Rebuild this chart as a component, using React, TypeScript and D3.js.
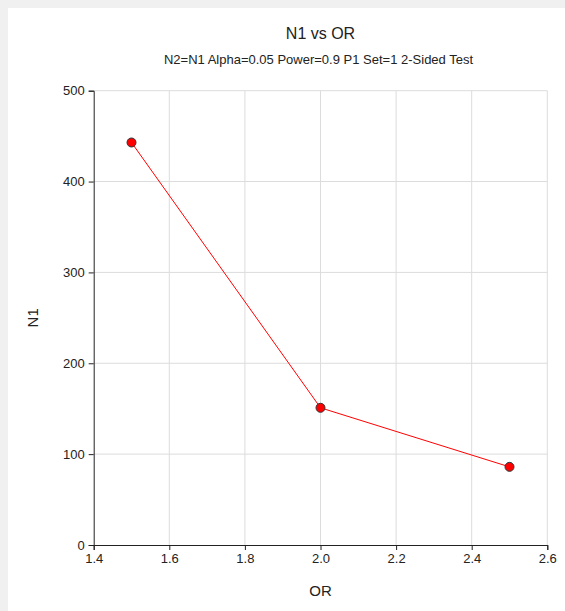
import React, { useEffect, useRef } from 'react';
import * as d3 from 'd3';

const orValues = [1.5, 2.0, 2.5];
const n1Values = [443, 151, 86];
const xTicks = [1.4, 1.6, 1.8, 2.0, 2.2, 2.4, 2.6];
const yTicks = [0, 100, 200, 300, 400, 500];

const App = () => {
  const svgRef = useRef<SVGSVGElement>(null);

  useEffect(() => {
    document.body.style.margin = '0';
    const width = 565;
    const height = 611;
    const left = 93.7;
    const right = 547.3;
    const top = 90.7;
    const bottom = 545;
    const font = 'Arial, "Liberation Sans", sans-serif';

    const svg = d3.select(svgRef.current).attr('width', width).attr('height', height);
    svg.selectAll('*').remove();

    svg.append('rect').attr('width', width).attr('height', height).attr('fill', '#f0f0f0');
    svg.append('rect').attr('x', 8).attr('y', 8).attr('width', width - 8).attr('height', height - 8).attr('fill', '#fff');

    const x = d3.scaleLinear().domain([1.4, 2.6]).range([left, right]);
    const y = d3.scaleLinear().domain([0, 500]).range([bottom, top]);

    // grid
    svg
      .append('g')
      .selectAll('line')
      .data(xTicks.slice(1))
      .join('line')
      .attr('x1', (d) => x(d))
      .attr('x2', (d) => x(d))
      .attr('y1', top)
      .attr('y2', bottom)
      .attr('stroke', '#dcdcdc');
    svg
      .append('g')
      .selectAll('line')
      .data(yTicks.slice(1))
      .join('line')
      .attr('x1', left)
      .attr('x2', right)
      .attr('y1', (d) => y(d))
      .attr('y2', (d) => y(d))
      .attr('stroke', '#dcdcdc');

    const xAxis = d3.axisBottom(x).tickValues(xTicks).tickFormat(d3.format('.1f')).tickSize(5).tickPadding(4);
    const yAxis = d3.axisLeft(y).tickValues(yTicks).tickSize(5).tickPadding(4);

    const gx = svg.append('g').attr('transform', `translate(0,${bottom})`).call(xAxis);
    const gy = svg.append('g').attr('transform', `translate(${left},0)`).call(yAxis);
    [gx, gy].forEach((g) => {
      g.select('.domain').attr('stroke', '#222');
      g.selectAll('.tick line').attr('stroke', '#222');
      g.selectAll('text').attr('font-family', font).attr('font-size', 13).attr('fill', '#222');
    });

    const line = d3
      .line<number>()
      .x((d, i) => x(orValues[i]))
      .y((d) => y(d));

    svg
      .append('path')
      .datum(n1Values)
      .attr('d', line)
      .attr('fill', 'none')
      .attr('stroke', '#ff0000')
      .attr('stroke-width', 1);

    svg
      .append('g')
      .selectAll('circle')
      .data(n1Values)
      .join('circle')
      .attr('cx', (d, i) => x(orValues[i]))
      .attr('cy', (d) => y(d))
      .attr('r', 4.5)
      .attr('fill', '#ff0000')
      .attr('stroke', '#333')
      .attr('stroke-width', 1);

    const cx = (left + right) / 2;
    svg
      .append('text')
      .attr('x', cx)
      .attr('y', 39)
      .attr('text-anchor', 'middle')
      .attr('font-family', font)
      .attr('font-size', 16)
      .attr('fill', '#222')
      .text('N1 vs OR');
    svg
      .append('text')
      .attr('x', cx - 2)
      .attr('y', 64)
      .attr('text-anchor', 'middle')
      .attr('font-family', font)
      .attr('font-size', 13)
      .attr('fill', '#222')
      .text('N2=N1 Alpha=0.05 Power=0.9 P1 Set=1 2-Sided Test');
    svg
      .append('text')
      .attr('x', cx)
      .attr('y', 596)
      .attr('text-anchor', 'middle')
      .attr('font-family', font)
      .attr('font-size', 15)
      .attr('fill', '#222')
      .text('OR');
    svg
      .append('text')
      .attr('transform', `translate(38,${(top + bottom) / 2}) rotate(-90)`)
      .attr('text-anchor', 'middle')
      .attr('font-family', font)
      .attr('font-size', 15)
      .attr('fill', '#222')
      .text('N1');
  }, []);

  return (
    <div>
      <svg ref={svgRef} style={{ display: 'block' }}></svg>
    </div>
  );
};

export default App;
